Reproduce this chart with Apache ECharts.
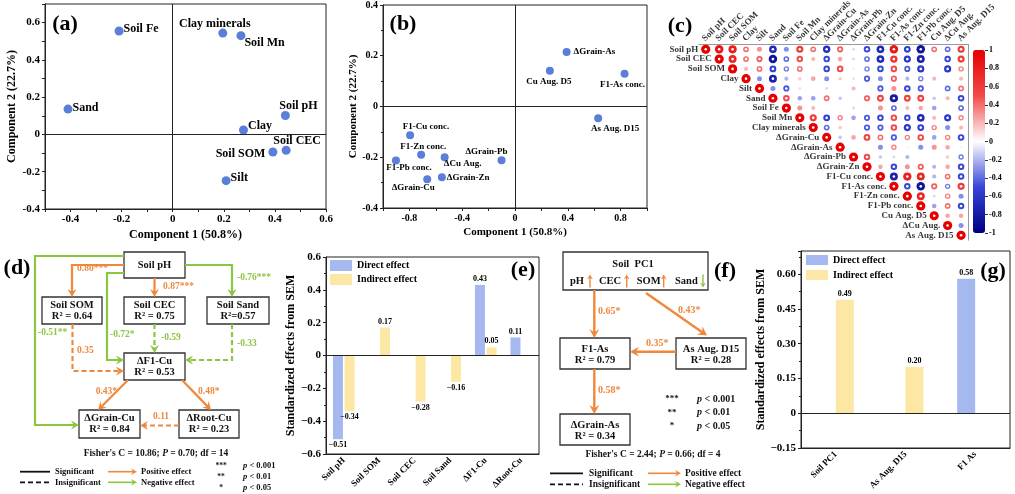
<!DOCTYPE html>
<html><head><meta charset="utf-8">
<script src="https://cdn.jsdelivr.net/npm/echarts@6/dist/echarts.min.js"></script>
<style>html,body{margin:0;padding:0;background:#fff}#c{width:1015px;height:494px}</style>
</head><body><div id="c"></div>
<script>
// ---------------- DATA ----------------
// (a) PCA of soil properties
const aNames = ['Soil Fe','Clay minerals','Soil Mn','Sand','Soil pH','Clay','Soil CEC','Soil SOM','Silt'];
const aX = [-0.21,0.196,0.267,-0.41,0.441,0.277,0.444,0.392,0.209];
const aY = [0.555,0.544,0.53,0.136,0.102,0.024,-0.085,-0.094,-0.248];
// (b) PCA of metal responses
const bNames = ['ΔGrain-As','Cu Aug. D5','F1-As conc.','As Aug. D15','F1-Cu conc.','F1-Zn conc.','ΔCu Aug.','ΔGrain-Pb','F1-Pb conc.','ΔGrain-Cu','ΔGrain-Zn'];
const bX = [0.391,0.264,0.830,0.630,-0.795,-0.711,-0.533,-0.102,-0.902,-0.665,-0.554];
const bY = [0.215,0.141,0.129,-0.046,-0.113,-0.19,-0.2,-0.212,-0.213,-0.287,-0.279];
const axisNameX = 'Component 1 (50.8%)';
const axisNameY = 'Component 2 (22.7%)';
// (c) correlation matrix (upper triangle, each row starts right of the diagonal)
const cVars = ['Soil pH','Soil CEC','Soil SOM','Clay','Silt','Sand','Soil Fe','Soil Mn','Clay minerals','ΔGrain-Cu','ΔGrain-As','ΔGrain-Pb','ΔGrain-Zn','F1-Cu conc.','F1-As conc.','F1-Zn conc.','F1-Pb conc.','Cu Aug. D5','ΔCu Aug.','As Aug. D15'];
const cUpper = [
 [0.85,0.8,0.4,0.3,-0.7,-0.3,0.6,0.4,-0.65,0.45,-0.1,-0.5,-0.7,0.85,-0.55,-0.85,0.4,-0.4,0.6],
 [0.75,0.4,0.45,-0.85,-0.4,0.5,0.2,-0.5,0.25,-0.1,-0.4,-0.7,0.65,-0.6,-0.75,0,-0.5,0.6],
 [0.2,0.4,-0.55,-0.35,0.4,0,-0.5,0.5,-0.05,-0.35,-0.5,0.5,-0.45,-0.6,0,-0.6,0.35],
 [-0.3,-0.75,-0.2,0.15,0.25,-0.3,0.15,0.1,-0.45,-0.3,0.45,-0.2,-0.35,0.2,0,0.2],
 [-0.3,-0.45,0.1,0,-0.1,0,0.2,0,-0.45,0.3,-0.5,-0.45,0,-0.4,0.4],
 [0.5,-0.25,-0.25,0.4,-0.15,0,0.45,0.55,-0.8,0.55,0.55,-0.15,0.2,-0.5],
 [0.3,0.2,0,0,-0.1,0,0.3,-0.4,0.2,0.25,-0.25,0,-0.4],
 [0.6,-0.55,0.35,-0.25,-0.45,-0.5,0.5,-0.5,-0.7,0.2,-0.6,0.35],
 [-0.4,0.15,0,-0.45,-0.45,0.5,-0.6,-0.55,0.35,-0.3,0.2],
 [-0.15,0.25,0.55,0.4,-0.45,0.35,0.5,-0.25,0.35,-0.5],
 [0,0,-0.3,0.35,0.05,-0.3,0.3,0.25,0.05],
 [0.5,-0.15,-0.1,-0.2,0,0,0.15,-0.35],
 [0.25,-0.5,0.3,0.45,-0.2,0.25,-0.5],
 [-0.75,0.8,0.75,-0.2,0.4,-0.5],
 [-0.5,-0.85,0.45,-0.35,0.6],
 [0.75,-0.1,0.35,-0.3],
 [-0.25,0.4,-0.5],
 [0.25,0.25],
 [-0.3],
 []
];
// (d) SEM for Cu
const dNodeNames = ['Soil pH','Soil SOM','Soil CEC','Soil Sand','ΔF1-Cu','ΔGrain-Cu','ΔRoot-Cu'];
const dNodeR2 = [null,'R² = 0.64','R² = 0.75','R²=0.57','R² = 0.53','R² = 0.84','R² = 0.23'];
const dPathCoef = ['0.80***','0.87***','-0.76***','-0.51**','-0.72*','-0.59','0.35','-0.33','0.43*','0.48*','0.11'];
const dPathSig = [1,1,1,1,1,0,0,0,1,1,0];
const dFisher = ['10.86','0.70','14'];
// (e) effects on ΔGrain-Cu
const eCats = ['Soil pH','Soil SOM','Soil CEC','Soil Sand','ΔF1-Cu','ΔRoot-Cu'];
const eDirect = [-0.51,null,null,null,0.43,0.11];
const eIndirect = [-0.34,0.17,-0.28,-0.16,0.05,null];
// (f) SEM for As
const fNodeNames = ['Soil  PC1','F1-As','As Aug. D15','ΔGrain-As'];
const fNodeR2 = [null,'R² = 0.79','R² = 0.28','R² = 0.34'];
const fPathCoef = ['0.65*','0.43*','0.35*','0.58*'];
const fPC = ['pH','CEC','SOM','Sand'];
const fPCdir = [1,1,1,-1];
const fFisher = ['2.44','0.66','4'];
// (g) effects on ΔGrain-As
const gCats = ['Soil PC1','As Aug. D15','F1 As'];
const gDirect = [null,null,0.58];
const gIndirect = [0.49,0.20,null];
const sigStars = ['***','**','*'];
const sigP = ['0.001','0.01','0.05'];
const seriesNames = ['Direct effect','Indirect effect'];

// ---------------- STYLE ----------------
const FF = 'Liberation Serif';
const FONT = '"Liberation Serif", serif';
const ORANGE = '#F0883C', GREEN = '#8CC63F', PT = '#5B7FD8', BBLUE = '#A5B8F0', BYEL = '#FCE8A4';
const bl = {fontFamily:FF, fontWeight:'bold', color:'#000'};
function merge(a,b){const r=Object.assign({},a);for(const k in b){const v=b[k];if(v&&typeof v==='object'&&!Array.isArray(v)&&r[k]&&typeof r[k]==='object'&&!Array.isArray(r[k]))r[k]=merge(r[k],v);else r[k]=v;}return r;}
const vBase = {type:'value', splitLine:{show:false}, nameLocation:'middle',
  axisLine:{show:true,onZero:false,lineStyle:{color:'#222',width:1}},
  axisTick:{show:true,length:3,lineStyle:{color:'#222'}},
  axisLabel:Object.assign({fontSize:11,margin:5},bl),
  nameTextStyle:Object.assign({fontSize:12},bl)};
const fmt1 = v => {const k=Math.round(v*10);return k===0?'0':(k/10).toFixed(1);};
const fmt2 = v => (v<0?'−':'')+Math.abs(v).toFixed(2);

// label placement for scatter names (style, not data)
const aLab = [['right',0,[0,-2]],['top',1,[-8,2]],['right',0,[-1,7]],['right',0,[0,-1]],['top',1,[13,2]],['right',0,[0,-4]],['top',1,[11,2]],['left',3,[0,2]],['right',0,[0,-3]]];
const bLab = [['right',3,[0,0]],['bottom',2,[-1,0]],['bottom',2,[-2,0]],['bottom',2,[17,0]],['top',1,[16,1]],['top',1,[2,1]],['bottom',1,[18,-3]],['top',1,[-15,1]],['bottom',1,[13,-2]],['bottom',1,[-14,-1]],['right',1,[0,0]]];
const aData = aNames.map((n,i)=>({name:n,value:[aX[i],aY[i]],label:{position:aLab[i][0],distance:aLab[i][1],offset:aLab[i][2]}}));
const bData = bNames.map((n,i)=>({name:n,value:[bX[i],bY[i]],label:{position:bLab[i][0],distance:bLab[i][1],offset:bLab[i][2]}}));

const cData = [], cDots = [];
cVars.forEach((_,i)=>{
  cData.push([i,i,1]); cDots.push([i,i]);
  cUpper[i].forEach((r,j)=>{ if(r!==0){cData.push([i+1+j,i,r]); if(Math.abs(r)>=0.35) cDots.push([i+1+j,i]);} });
});
const zeroLine = (axis)=>({silent:true,symbol:['none','none'],label:{show:false},animation:false,lineStyle:{color:'#222',type:'solid',width:1},data:axis});
function barData(arr){return arr.map(v=>v==null?'-':{value:v,label:{position:v<0?'bottom':'top'}});}
const barLabel = Object.assign({show:true,formatter:p=>fmt2(p.value),fontSize:8,distance:2},bl);

// ---------------- GRAPHIC (SEM diagrams, panel letters) ----------------
const G = [];
function txt(x,y,s,o={}){
  const font=(o.italic?'italic ':'')+'bold '+(o.size||10)+'px '+FONT;
  const st={text:s,font:font,fill:o.color||'#111',textAlign:o.align||'center',align:o.align||'center',textVerticalAlign:'middle',verticalAlign:'middle'};
  if(o.rich) st.rich=o.rich;
  G.push({type:'text',x:x,y:y,silent:true,z:10,style:st});
}
function box(b){G.push({type:'rect',silent:true,z:5,shape:{x:b[0],y:b[1],width:b[2]-b[0],height:b[3]-b[1]},style:{fill:'#fff',stroke:'#333',lineWidth:1.3}});}
function line(pts,color,dashed,lw){G.push({type:'polyline',silent:true,z:6,shape:{points:pts},style:{stroke:color,lineWidth:lw||2,fill:null,lineDash:dashed?[5,3]:null}});}
function arrow(pts,color,dashed,lw,L,W){
  lw=lw||2.2;L=L||8;W=W||4.5;
  const n=pts.length,p1=pts[n-2],p2=pts[n-1];
  const a=Math.atan2(p2[1]-p1[1],p2[0]-p1[0]),c=Math.cos(a),s=Math.sin(a);
  const bx=p2[0]-c*L,by=p2[1]-s*L;
  line(pts.slice(0,n-1).concat([[p2[0]-c*L*0.5,p2[1]-s*L*0.5]]),color,dashed,lw);
  G.push({type:'polygon',silent:true,z:7,shape:{points:[[p2[0],p2[1]],[bx-s*W,by+c*W],[p2[0]-c*L*0.65,p2[1]-s*L*0.65],[bx+s*W,by-c*W]]},style:{fill:color}});
}
function nodes(boxes,names,r2,size,d1,d2){
  boxes.forEach((b,i)=>{box(b);const cx=(b[0]+b[2])/2;
    if(r2[i]==null) txt(cx,(b[1]+b[3])/2,names[i],{size:size});
    else {txt(cx,b[1]+d1,names[i],{size:size});txt(cx,b[1]+d2,r2[i],{size:size});}});
}
function fisher(x,y,F,size){
  const f='bold '+size+'px '+FONT, fi='italic bold '+size+'px '+FONT;
  txt(x,y,'{a|Fisher\'s C = '+F[0]+'; }{b|P}{a| = '+F[1]+'; df = '+F[2]+'}',{size:size,rich:{a:{font:f,fill:'#111'},b:{font:fi,fill:'#111'}}});
}
function sig(xs,xp,ys,size){
  const f='bold '+size+'px '+FONT, fi='italic bold '+size+'px '+FONT;
  sigStars.forEach((s,i)=>{txt(xs,ys[i],s,{size:size-1});
    txt(xp,ys[i],'{b|p}{a| < '+sigP[i]+'}',{size:size,align:'left',rich:{a:{font:f,fill:'#111'},b:{font:fi,fill:'#111'}}});});
}
function legendSEM(x0,x1,xt,xa0,xa1,xat,y1,y2,size){
  line([[x0,y1],[x1,y1]],'#111',false,1.8); txt(xt,y1,'Significant',{size:size,align:'left'});
  line([[x0,y2],[x1,y2]],'#111',true,1.8); txt(xt,y2,'Insignificant',{size:size,align:'left'});
  arrow([[xa0,y1],[xa1,y1]],ORANGE,false,1.6,6,3.2); txt(xat,y1,'Positive effect',{size:size,align:'left'});
  arrow([[xa0,y2],[xa1,y2]],GREEN,false,1.6,6,3.2); txt(xat,y2,'Negative effect',{size:size,align:'left'});
}
// panel letters
[['(a)',65,24],['(b)',403,24],['(c)',680,26],['(d)',17,268],['(e)',523,270],['(f)',725,271],['(g)',993,271]].forEach(p=>txt(p[1],p[2],p[0],{size:22,color:'#000'}));

// (d) layout
const dBox=[[124,252,185,278],[42,297,102,324],[124,297,185,324],[207,297,269,324],[124,353,185,380],[79,410,140,438],[179,410,239,438]];
const dPts=[
 [[124,265],[72,265],[72,297]],
 [[154.5,278],[154.5,297]],
 [[185,265],[232,265],[232,297]],
 [[124,256],[35,256],[35,425],[79,425]],
 [[124,273],[107,273],[107,360],[124,360]],
 [[154.5,324],[154.5,353]],
 [[72.5,324],[72.5,371],[124,371]],
 [[232,324],[232,360],[185,360]],
 [[128,380],[98,410]],
 [[182,380],[211,410]],
 [[179,425.5],[140,425.5]]];
const dLab=[[77,269,'left'],[163,287,'left'],[237,278,'left'],[38,333,'left'],[110,335,'left'],[161,338,'left'],[77,351,'left'],[237,344,'left'],[117,392,'right'],[198,392,'left'],[153,417,'left']];
dPts.forEach((p,i)=>{const col=dPathCoef[i][0]==='-'?GREEN:ORANGE;arrow(p,col,!dPathSig[i]);
  txt(dLab[i][0],dLab[i][1],dPathCoef[i],{size:9.5,color:col,align:dLab[i][2]});});
nodes(dBox,dNodeNames,dNodeR2,10.5,8.5,19.5);
fisher(156,454,dFisher,9.5);
sig(221,243,[466,477,488],8.5);
legendSEM(20,50,55,108,137,141,471.7,482.3,8.5);

// (f) layout
const fBox=[[563,252,708,290],[560,338,630,369],[676,338,746,369],[560,414,630,445]];
const fPts=[[[594.3,290],[594.3,338]],[[646,293],[707,335.5]],[[676,351.7],[630,351.7]],[[594.3,369],[594.3,414]]];
const fLab=[[598,311],[678,310],[646,343],[598,390]];
fPts.forEach((p,i)=>{arrow(p,ORANGE,false,2.4,9,5);txt(fLab[i][0],fLab[i][1],fPathCoef[i],{size:10,color:ORANGE,align:'left'});});
box(fBox[0]); txt(633,264.5,fNodeNames[0],{size:10.5});
const fPCx=[570,599,636.7,675], fArx=[590,626.7,663.7,703];
fPC.forEach((s,i)=>{txt(fPCx[i],281,s,{size:10.5,align:'left'});
  const up=fPCdir[i]>0; arrow(up?[[fArx[i],287.5],[fArx[i],274.5]]:[[fArx[i],274.5],[fArx[i],287.5]],up?ORANGE:GREEN,false,1.4,5,3);});
nodes(fBox.slice(1),fNodeNames.slice(1),fNodeR2.slice(1),10.5,11,22.5);
fisher(653,455,fFisher,9.5);
sig(672,697,[399,412.7,426],10);
legendSEM(550,583,589,648,681,685,473.3,484.3,9.5);

// ---------------- CHART ----------------
const chart = echarts.init(document.getElementById('c'), null, {renderer:'canvas'});
const option = {
  animation:false, backgroundColor:'#fff',
  grid:[
    {left:45,top:4,width:281,height:205,show:true,borderColor:'#222',borderWidth:1,outerBoundsMode:'none'},
    {left:383,top:5,width:264,height:203,show:true,borderColor:'#222',borderWidth:1,outerBoundsMode:'none'},
    {left:699,top:44.4,width:268.8,height:195.8,outerBoundsMode:'none'},
    {left:326,top:257,width:213,height:197,show:true,borderColor:'#222',borderWidth:1,outerBoundsMode:'none'},
    {left:801,top:251,width:209,height:197,show:true,borderColor:'#222',borderWidth:1,outerBoundsMode:'none'},
    {left:973,top:50,width:12,height:183,outerBoundsMode:'none'}
  ],
  xAxis:[
    merge(vBase,{gridIndex:0,min:-0.5,max:0.6,interval:0.1,name:axisNameX,nameGap:20,axisLabel:{formatter:v=>{const k=Math.round(v*10);return k%2?'':fmt1(v);}}}),
    merge(vBase,{gridIndex:1,min:-1,max:1,interval:0.2,name:axisNameX,nameGap:19,axisLabel:{fontSize:10,formatter:v=>{const k=Math.round(v*10);return k%4?'':fmt1(v);}},nameTextStyle:{fontSize:11}}),
    {type:'category',gridIndex:2,data:cVars,position:'top',axisLine:{show:true,lineStyle:{color:'#999'}},axisTick:{show:false},splitLine:{show:false},axisLabel:{show:false}},
    {type:'category',gridIndex:3,data:eCats,axisLine:{onZero:false,lineStyle:{color:'#222'}},axisTick:{alignWithLabel:true,length:3,lineStyle:{color:'#222'}},axisLabel:Object.assign({rotate:45,interval:0,fontSize:9,margin:5},bl)},
    {type:'category',gridIndex:4,data:gCats,axisLine:{onZero:false,lineStyle:{color:'#222'}},axisTick:{alignWithLabel:true,length:3,lineStyle:{color:'#222'}},axisLabel:Object.assign({rotate:45,interval:0,fontSize:9,margin:5},bl)},
    {type:'value',gridIndex:5,show:false,min:0,max:1}
  ],
  yAxis:[
    merge(vBase,{gridIndex:0,min:-0.4,max:0.7,interval:0.1,name:axisNameY,nameGap:27,axisLabel:{formatter:v=>{const k=Math.round(v*10);return k%2?'':fmt1(v);}}}),
    merge(vBase,{gridIndex:1,min:-0.4,max:0.4,interval:0.2,name:axisNameY,nameGap:21,minorTick:{show:true,splitNumber:2,length:2},axisLabel:{fontSize:10,formatter:fmt1},nameTextStyle:{fontSize:11}}),
    {type:'category',gridIndex:2,data:cVars,inverse:true,position:'right',axisLine:{show:true,lineStyle:{color:'#999'}},axisTick:{show:false},axisLabel:{show:false},splitLine:{show:false}},
    merge(vBase,{gridIndex:3,min:-0.6,max:0.6,interval:0.2,name:'Standardized effects from SEM',nameGap:24,minorTick:{show:true,splitNumber:2,length:2},axisLabel:{formatter:v=>{const k=Math.round(v*10);return k===0?'0':(k<0?'−':'')+Math.abs(k/10).toFixed(1);}}}),
    merge(vBase,{gridIndex:4,min:-0.15,max:0.7,interval:0.15,name:'Standardized effects from SEM',nameGap:31,minorTick:{show:true,splitNumber:2,length:2},axisLabel:{showMaxLabel:false,formatter:v=>Math.abs(v)<1e-9?'0':fmt2(v)}}),
    merge(vBase,{gridIndex:5,min:-1,max:1,interval:0.2,position:'right',axisLine:{show:false},axisTick:{length:3,lineStyle:{color:'#333'}},axisLabel:{fontSize:8,margin:4,formatter:v=>{const k=Math.round(v*10);return k%10===0?String(k/10):(k/10).toFixed(1);}}})
  ],
  visualMap:[{type:'continuous',seriesIndex:2,dimension:2,min:-1,max:1,left:973,top:50,itemWidth:12,itemHeight:183,calculable:false,padding:0,orient:'vertical',
    inRange:{color:['#00007F','#3545DA','#FFFFFF','#F24A4A','#E60000']}}],
  legend:[
    {data:seriesNames,left:330,top:260,orient:'vertical',itemWidth:22,itemHeight:11,itemGap:3,icon:'rect',padding:0,selectedMode:false,textStyle:Object.assign({fontSize:10},bl)},
    {data:seriesNames,left:806,top:255,orient:'vertical',itemWidth:22,itemHeight:10,itemGap:5,icon:'rect',padding:0,selectedMode:false,textStyle:Object.assign({fontSize:10},bl)}
  ],
  series:[
    {type:'scatter',xAxisIndex:0,yAxisIndex:0,data:aData,symbolSize:9,itemStyle:{color:PT,opacity:1},
      label:Object.assign({show:true,formatter:'{b}',fontSize:12},bl),markLine:zeroLine([{xAxis:0},{yAxis:0}]),z:3},
    {type:'scatter',xAxisIndex:1,yAxisIndex:1,data:bData,symbolSize:8,itemStyle:{color:PT,opacity:1},
      label:Object.assign({show:true,formatter:'{b}',fontSize:9},bl),markLine:zeroLine([{xAxis:0},{yAxis:0}]),z:3},
    {type:'scatter',xAxisIndex:2,yAxisIndex:2,data:cData,symbolSize:v=>9.2*Math.sqrt(Math.abs(v[2])),itemStyle:{opacity:1},z:3},
    {type:'scatter',xAxisIndex:2,yAxisIndex:2,data:cDots,symbolSize:2.6,itemStyle:{color:'#fff',opacity:1},z:4},
    {type:'scatter',xAxisIndex:2,yAxisIndex:2,data:cVars.map((n,i)=>({name:n,value:[i,i]})),symbolSize:9,itemStyle:{color:'rgba(0,0,0,0)'},
      label:Object.assign({show:true,position:'left',distance:3,formatter:'{b}',fontSize:9},bl),z:2},
    {type:'scatter',xAxisIndex:2,yAxisIndex:2,clip:false,data:cVars.map((n,i)=>({name:n,value:[i,0]})),symbolSize:1,itemStyle:{color:'rgba(0,0,0,0)'},
      label:Object.assign({show:true,position:[-1.5,-9],rotate:45,align:'left',verticalAlign:'middle',formatter:'{b}',fontSize:9},bl),z:2},
    {type:'bar',name:seriesNames[0],xAxisIndex:3,yAxisIndex:3,data:barData(eDirect),barWidth:10,barGap:'16%',itemStyle:{color:BBLUE},label:barLabel,markLine:zeroLine([{yAxis:0}])},
    {type:'bar',name:seriesNames[1],xAxisIndex:3,yAxisIndex:3,data:barData(eIndirect),barWidth:10,barGap:'16%',itemStyle:{color:BYEL},label:barLabel},
    {type:'bar',name:seriesNames[0],xAxisIndex:4,yAxisIndex:4,data:barData(gDirect),barWidth:18,barGap:'0%',itemStyle:{color:BBLUE},label:barLabel,markLine:zeroLine([{yAxis:0}])},
    {type:'bar',name:seriesNames[1],xAxisIndex:4,yAxisIndex:4,data:barData(gIndirect),barWidth:18,barGap:'0%',itemStyle:{color:BYEL},label:barLabel}
  ],
  graphic:{elements:G}
};
chart.setOption(option);
</script></body></html>
